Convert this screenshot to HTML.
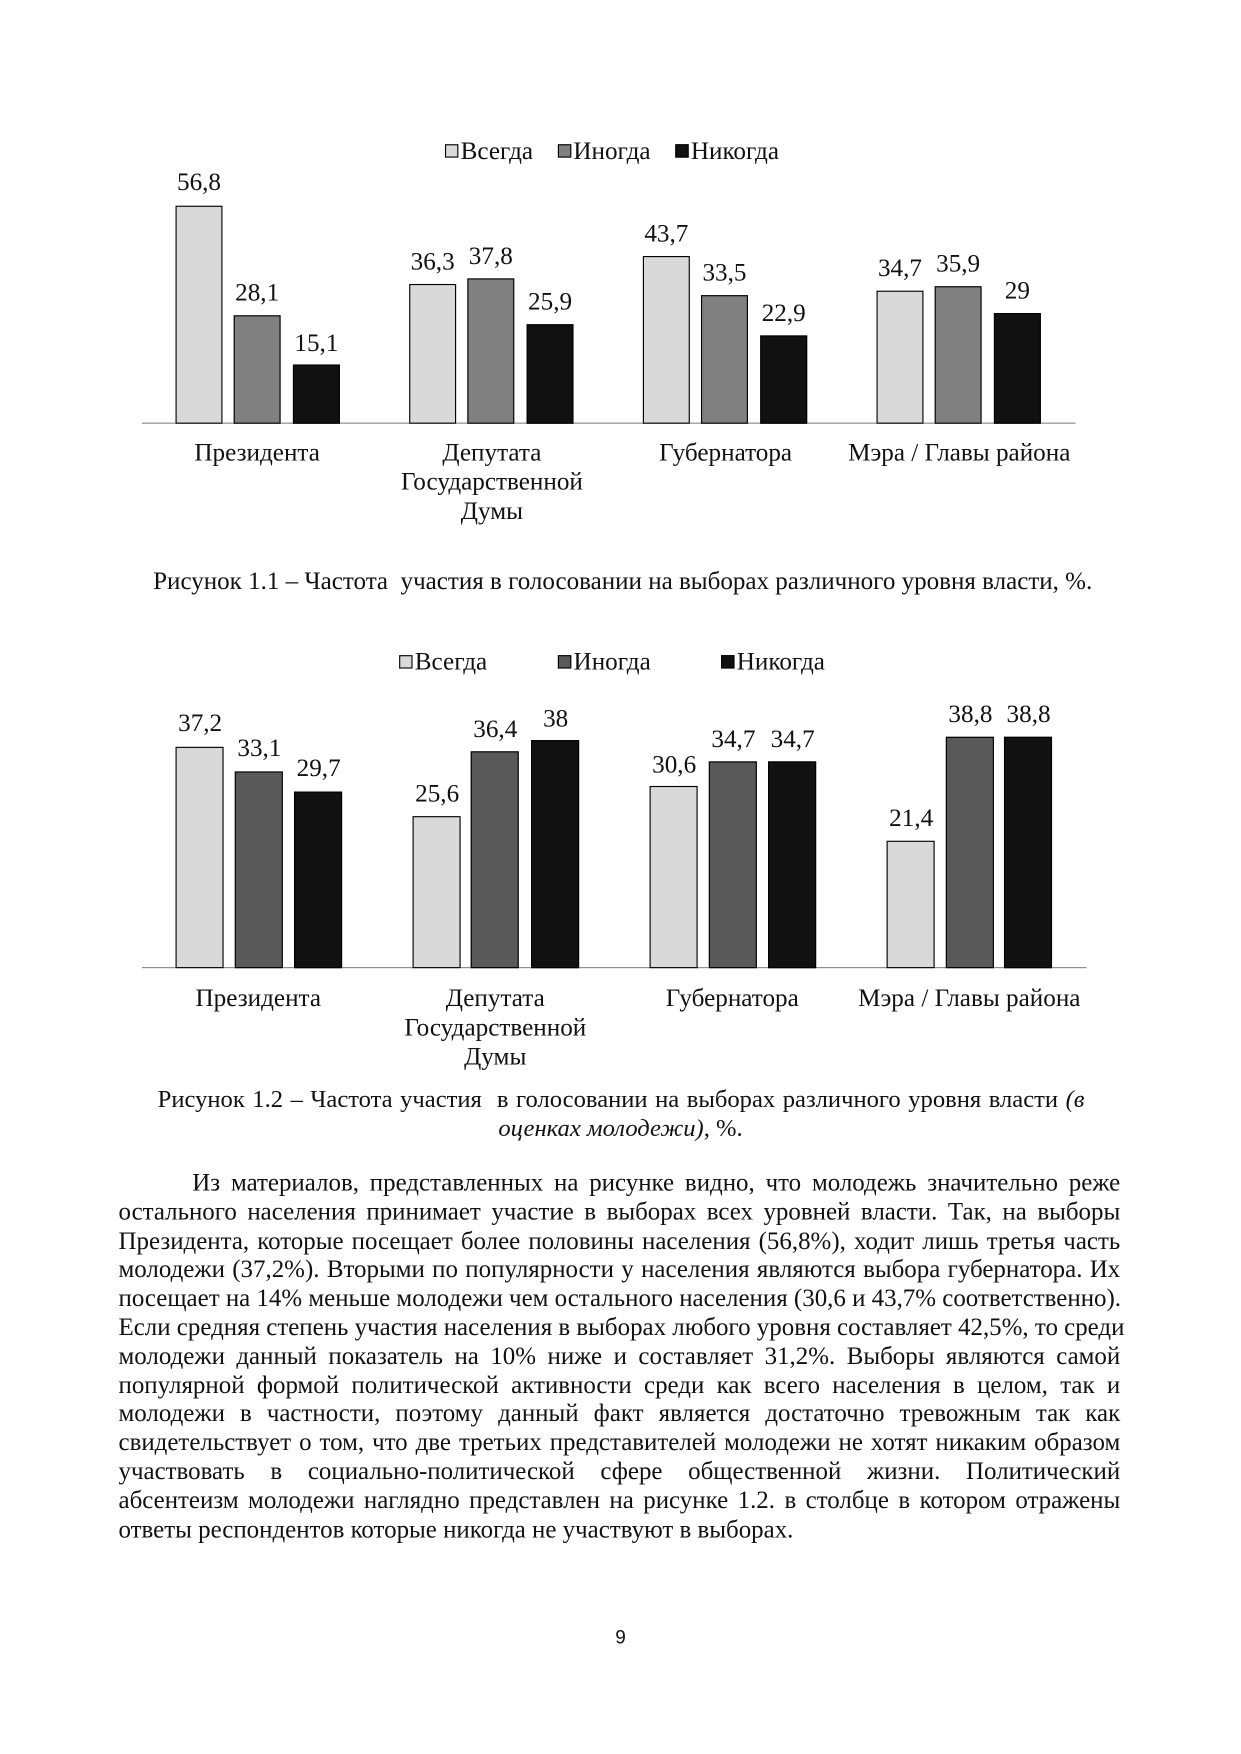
<!DOCTYPE html>
<html><head><meta charset="utf-8"><style>
html,body{margin:0;padding:0;background:#fff;}
body{width:1241px;height:1754px;overflow:hidden;position:relative;}
#w{position:absolute;left:0;top:0;width:1110px;height:1569px;transform:scale(1.118);transform-origin:0 0;font-family:"Liberation Serif",serif;color:#111;}
.a{position:absolute;}
.b{position:absolute;border:1px solid #000;box-sizing:border-box;}
.l1{background:#d9d9d9}.g1{background:#808080}.k{background:#111}.g2{background:#595959}
.v{position:absolute;width:82px;text-align:center;font-size:22.5px;line-height:22px;}
.c{position:absolute;width:240px;text-align:center;font-size:22.5px;line-height:26px;}
.lg{position:absolute;font-size:22.5px;line-height:22px;white-space:nowrap;}
.sq{display:inline-block;width:10px;height:10px;border:1px solid #000;margin-right:2px;vertical-align:1px;}
.p{position:absolute;left:106px;width:896px;font-size:22.3px;line-height:25.8px;}
.p div{text-align:justify;text-align-last:justify;white-space:nowrap;height:25.8px;}
</style></head><body><div id="w">
<!-- Chart 1 -->
<div class="lg" style="left:398px;top:124px"><span class="sq l1"></span>Всегда<span style="display:inline-block;width:22px"></span><span class="sq g1"></span>Иногда<span style="display:inline-block;width:22px"></span><span class="sq k"></span>Никогда</div>
<div class="a" style="left:127px;top:378px;width:835px;height:1px;background:#888"></div>
<div class="b l1" style="left:157px;top:184px;width:42px;height:195px"></div>
<div class="b g1" style="left:209px;top:282px;width:42px;height:97px"></div>
<div class="b k" style="left:262px;top:326px;width:42px;height:53px"></div>
<div class="b l1" style="left:366px;top:254px;width:42px;height:125px"></div>
<div class="b g1" style="left:418px;top:249px;width:42px;height:130px"></div>
<div class="b k" style="left:471px;top:290px;width:42px;height:89px"></div>
<div class="b l1" style="left:575px;top:229px;width:42px;height:150px"></div>
<div class="b g1" style="left:627px;top:264px;width:42px;height:115px"></div>
<div class="b k" style="left:680px;top:300px;width:42px;height:79px"></div>
<div class="b l1" style="left:784px;top:260px;width:42px;height:119px"></div>
<div class="b g1" style="left:836px;top:256px;width:42px;height:123px"></div>
<div class="b k" style="left:889px;top:280px;width:42px;height:99px"></div>
<div class="v" style="left:137px;top:152px">56,8</div>
<div class="v" style="left:189px;top:251px">28,1</div>
<div class="v" style="left:242px;top:296px">15,1</div>
<div class="v" style="left:346px;top:223px">36,3</div>
<div class="v" style="left:398px;top:218px">37,8</div>
<div class="v" style="left:451px;top:259px">25,9</div>
<div class="v" style="left:555px;top:198px">43,7</div>
<div class="v" style="left:607px;top:233px">33,5</div>
<div class="v" style="left:660px;top:269px">22,9</div>
<div class="v" style="left:764px;top:229px">34,7</div>
<div class="v" style="left:816px;top:225px">35,9</div>
<div class="v" style="left:869px;top:249px">29</div>
<div class="c" style="left:110px;top:392px">Президента</div>
<div class="c" style="left:320px;top:392px">Депутата<br>Государственной<br>Думы</div>
<div class="c" style="left:529px;top:392px">Губернатора</div>
<div class="c" style="left:738px;top:392px">Мэра / Главы района</div>
<div class="a" style="left:0;width:1110px;top:508px;text-align:center;font-size:22.4px;line-height:24px;padding-left:4px;box-sizing:border-box">Рисунок 1.1 – Частота&nbsp; участия в голосовании на выборах различного уровня власти, %.</div>
<!-- Chart 2 -->
<div class="lg" style="left:357px;top:581px"><span class="sq l1"></span>Всегда</div>
<div class="lg" style="left:499px;top:581px"><span class="sq g2"></span>Иногда</div>
<div class="lg" style="left:645px;top:581px"><span class="sq k"></span>Никогда</div>
<div class="a" style="left:127px;top:865px;width:845px;height:1px;background:#888"></div>
<div class="b l1" style="left:157px;top:668px;width:43px;height:198px"></div>
<div class="b g2" style="left:210px;top:690px;width:43px;height:176px"></div>
<div class="b k" style="left:263px;top:708px;width:43px;height:158px"></div>
<div class="b l1" style="left:369px;top:730px;width:43px;height:136px"></div>
<div class="b g2" style="left:421px;top:672px;width:43px;height:194px"></div>
<div class="b k" style="left:475px;top:662px;width:43px;height:204px"></div>
<div class="b l1" style="left:581px;top:703px;width:43px;height:163px"></div>
<div class="b g2" style="left:634px;top:681px;width:43px;height:185px"></div>
<div class="b k" style="left:687px;top:681px;width:43px;height:185px"></div>
<div class="b l1" style="left:793px;top:752px;width:43px;height:114px"></div>
<div class="b g2" style="left:846px;top:659px;width:43px;height:207px"></div>
<div class="b k" style="left:898px;top:659px;width:43px;height:207px"></div>
<div class="v" style="left:138px;top:636px">37,2</div>
<div class="v" style="left:191px;top:658px">33,1</div>
<div class="v" style="left:244px;top:676px">29,7</div>
<div class="v" style="left:350px;top:699px">25,6</div>
<div class="v" style="left:402px;top:641px">36,4</div>
<div class="v" style="left:456px;top:632px">38</div>
<div class="v" style="left:562px;top:673px">30,6</div>
<div class="v" style="left:615px;top:650px">34,7</div>
<div class="v" style="left:668px;top:650px">34,7</div>
<div class="v" style="left:774px;top:721px">21,4</div>
<div class="v" style="left:827px;top:628px">38,8</div>
<div class="v" style="left:879px;top:628px">38,8</div>
<div class="c" style="left:111px;top:880px">Президента</div>
<div class="c" style="left:323px;top:880px">Депутата<br>Государственной<br>Думы</div>
<div class="c" style="left:535px;top:880px">Губернатора</div>
<div class="c" style="left:747px;top:880px">Мэра / Главы района</div>
<div class="a" style="left:141px;width:829px;top:970px;font-size:22px;line-height:26px;text-align:justify;text-align-last:justify;white-space:nowrap">Рисунок 1.2 – Частота участия&nbsp; в голосовании на выборах различного уровня власти <i>(в</i></div>
<div class="a" style="left:0;width:1110px;top:996px;font-size:22px;line-height:26px;text-align:center"><i>оценках молодежи)</i>, %.</div>
<!-- Paragraph -->
<div class="p" style="top:1045px">
<div style="padding-left:66px">Из материалов, представленных на рисунке видно, что молодежь значительно реже</div>
<div>остального населения принимает участие в выборах всех уровней власти. Так, на выборы</div>
<div>Президента, которые посещает более половины населения (56,8%), ходит лишь третья часть</div>
<div>молодежи (37,2%). Вторыми по популярности у населения являются выбора губернатора. Их</div>
<div>посещает на 14% меньше молодежи чем остального населения (30,6 и 43,7% соответственно).</div>
<div>Если средняя степень участия населения в выборах любого уровня составляет 42,5%, то среди</div>
<div>молодежи данный показатель на 10% ниже и составляет 31,2%. Выборы являются самой</div>
<div>популярной формой политической активности среди как всего населения в целом, так и</div>
<div>молодежи в частности, поэтому данный факт является достаточно тревожным так как</div>
<div>свидетельствует о том, что две третьих представителей молодежи не хотят никаким образом</div>
<div>участвовать в социально-политической сфере общественной жизни. Политический</div>
<div>абсентеизм молодежи наглядно представлен на рисунке 1.2. в столбце в котором отражены</div>
<div style="text-align:left;text-align-last:left">ответы респондентов которые никогда не участвуют в выборах.</div>
</div>
<div class="a" style="left:0;width:1110px;top:1455px;text-align:center;font-family:'Liberation Sans',sans-serif;font-size:17px;line-height:20px">9</div>
</div></body></html>
